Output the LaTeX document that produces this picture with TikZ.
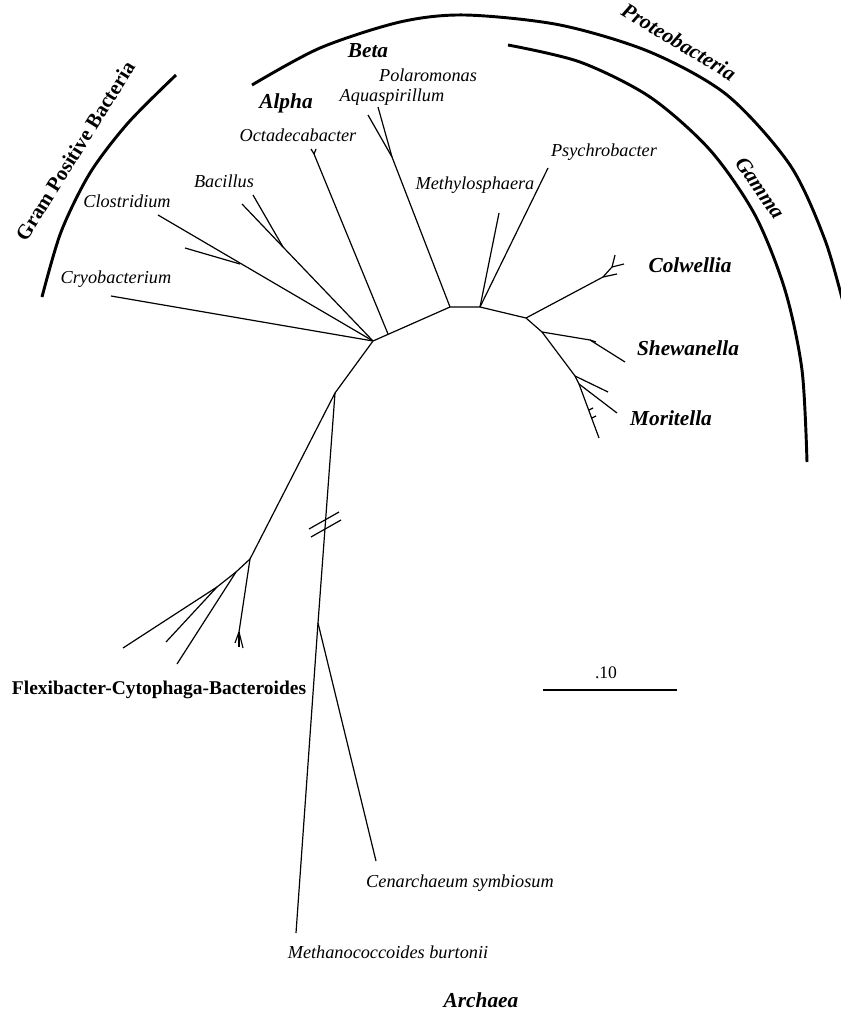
\documentclass[tikz,border=0pt]{standalone}
\usepackage{fontspec}
\setmainfont{Liberation Serif}
\begin{document}
\begin{tikzpicture}[x=0.75pt,y=-0.75pt,
  branch/.style={line width=0.9pt,line join=round},
  arcline/.style={line width=2.2pt},
  genus/.style={font=\fontsize{13.7}{16}\selectfont\itshape,inner sep=0pt},
  group/.style={font=\fontsize{16}{19}\selectfont\bfseries\itshape,inner sep=0pt},
  plain/.style={font=\fontsize{13.2}{16}\selectfont,inner sep=0pt}]
\useasboundingbox (0,0) rectangle (841,1013);
\clip (0,0) rectangle (841,1013);
% ---------- internal nodes ----------
\coordinate (N0) at (335,393);
\coordinate (N1) at (373,341);
\coordinate (N2) at (450,307);
\coordinate (N3) at (480,307);
\coordinate (N4) at (526,318);
\coordinate (N5) at (542,332);
\coordinate (Oc) at (388,334);
% ---------- left (Gram positive) ----------
\coordinate (tCryo) at (111,296);
\coordinate (tClos) at (158,215);
\coordinate (cClos) at (240,264);
\coordinate (tClos2) at (185,248);
\coordinate (tBac1) at (253,195);
\coordinate (tBac2) at (242,204);
\coordinate (cBac) at (283,247);
\draw[branch] (tCryo) -- (N1);
\draw[branch] (tClos) -- (N1);
\draw[branch] (tClos2) -- (cClos);
\draw[branch] (tBac1) -- (cBac) -- (N1);
\draw[branch] (tBac2) -- (cBac);
% ---------- backbone ----------
\draw[branch] (N0) -- (N1) -- (N2) -- (N3) -- (N4) -- (N5);
% ---------- alpha / beta ----------
\coordinate (tOct) at (314,154);
\coordinate (tOcta) at (311,149);
\coordinate (tOctb) at (316,149);
\draw[branch] (Oc) -- (tOct) -- (tOcta);
\draw[branch] (tOct) -- (tOctb);
\coordinate (cAq) at (392,157);
\coordinate (tAq) at (368,115);
\coordinate (tPol) at (378,107);
\draw[branch] (N2) -- (cAq) -- (tAq);
\draw[branch] (cAq) -- (tPol);
% ---------- gamma ----------
\coordinate (tMeth) at (499,213);
\coordinate (tPsy) at (548,168);
\draw[branch] (N3) -- (tMeth);
\draw[branch] (N3) -- (tPsy);
\coordinate (cCol) at (603,277);
\coordinate (tCol1) at (617,274);
\coordinate (cCol2) at (612,267);
\coordinate (tCol2) at (615,255);
\coordinate (tCol3) at (624,264);
\draw[branch] (N4) -- (cCol) -- (tCol1);
\draw[branch] (cCol) -- (cCol2) -- (tCol2);
\draw[branch] (cCol2) -- (tCol3);
\coordinate (cShe) at (590,340);
\coordinate (tShe) at (625,362);
\coordinate (tShe2) at (596,342);
\draw[branch] (N5) -- (cShe) -- (tShe);
\draw[branch] (cShe) -- (tShe2);
\coordinate (M1) at (575,376);
\coordinate (M2) at (579,384);
\coordinate (tMor1) at (608,392);
\coordinate (tMor2) at (617,413);
\coordinate (tMor3) at (599,438);
\coordinate (k1) at (589,410);
\coordinate (k2) at (592,418);
\draw[branch] (N5) -- (M1) -- (M2) -- (tMor3);
\draw[branch] (M1) -- (tMor1);
\draw[branch] (M2) -- (tMor2);
\draw[branch] (k1) -- ++(4,-2);
\draw[branch] (k2) -- ++(4,-2);
% ---------- FCB ----------
\coordinate (F1) at (250,559);
\coordinate (F2) at (236,572);
\coordinate (F3) at (217,587);
\coordinate (cFx) at (239,632);
\draw[branch] (N0) -- (F1) -- (cFx) -- (235,643);
\draw[branch] (cFx) -- (239,647);
\draw[branch] (cFx) -- (243,648);
\draw[branch] (F1) -- (F2) -- (177,664);
\draw[branch] (F2) -- (F3) -- (123,648);
\draw[branch] (F3) -- (166,642);
% ---------- Archaea ----------
\coordinate (A1) at (318,623);
\coordinate (tMbur) at (296,933);
\coordinate (tCen) at (376,861);
\draw[branch] (N0) -- (A1) -- (tMbur);
\draw[branch] (A1) -- (tCen);
\draw[branch] (309,529) -- (339,512);
\draw[branch] (311,537) -- (341,520);
% ---------- scale bar ----------
\coordinate (sb1) at (543,690);
\coordinate (sb2) at (677,690);
\draw[branch] (sb1) -- (sb2);
\node[plain] (lsb) at (606,673) {.10};
% ---------- group arcs ----------
\draw[arcline] plot[smooth] coordinates {(42,297) (61,232) (90,173) (128,123) (176,75)};
\draw[arcline] plot[smooth] coordinates {(252,85) (320,48) (400,22) (465,15) (560,25) (650,52) (727,95) (790,165) (825,240) (845,310)};
\draw[arcline] plot[smooth] coordinates {(508,45) (580,62) (650,97) (710,150) (755,215) (785,290) (802,370) (807,462)};
% ---------- labels ----------
\node[genus] (lCryo) at (116,279) {Cryobacterium};
\node[genus] (lClos) at (127,201) {Clostridium};
\node[genus] (lBac) at (224,181) {Bacillus};
\node[genus] (lOct) at (298,135) {Octadecabacter};
\node[genus] (lAq) at (392,97) {Aquaspirillum};
\node[genus] (lPol) at (428,75) {Polaromonas};
\node[genus] (lMeth) at (475,185) {Methylosphaera};
\node[genus] (lPsy) at (604,152) {Psychrobacter};
\node[genus] (lCen) at (460,883) {Cenarchaeum symbiosum};
\node[genus] (lMbur) at (388,952) {Methanococcoides burtonii};
\node[group] (lAlpha) at (286,103) {Alpha};
\node[group] (lBeta) at (368,51) {Beta};
\node[group] (lCol) at (690,265) {Colwellia};
\node[group] (lShe) at (688,348) {Shewanella};
\node[group] (lMor) at (671,418) {Moritella};
\node[group] (lArch) at (481,1000) {Archaea};
\node[group,rotate=-31] (lProt) at (679,42) {Proteobacteria};
\node[group,rotate=-55] (lGam) at (760,188) {Gamma};
\node[font=\fontsize{15.5}{18}\selectfont\bfseries,inner sep=0pt,rotate=58] (lGram) at (75,151) {Gram Positive Bacteria};
\node[font=\fontsize{14.6}{17}\selectfont\bfseries,inner sep=0pt] (lFCB) at (159,690) {Flexibacter-Cytophaga-Bacteroides};
\end{tikzpicture}
\end{document}
